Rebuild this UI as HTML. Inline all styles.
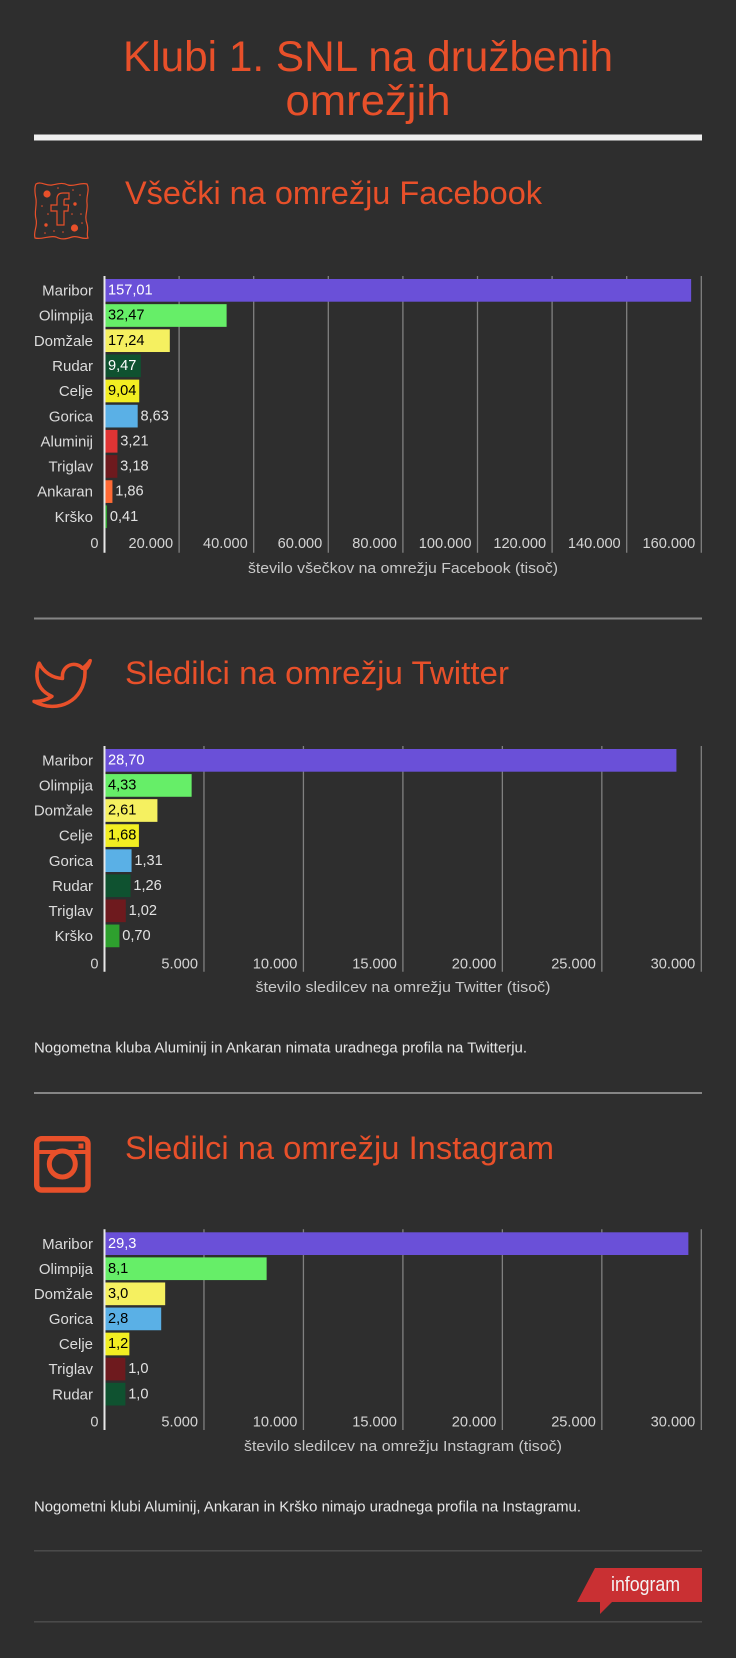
<!DOCTYPE html>
<html lang="sl">
<head>
<meta charset="utf-8">
<title>Klubi 1. SNL na družbenih omrežjih</title>
<style>
html,body{margin:0;padding:0;background:#2e2e2e;}
svg{display:block;}
text{font-family:"Liberation Sans",Arial,sans-serif;}
.title{fill:#e8502a;font-size:43px;text-anchor:middle;}
.h2{fill:#e8502a;font-size:32px;}
.note{fill:#e6e6e6;font-size:14.5px;}
.cat{fill:#dcdcdc;font-size:15px;text-anchor:end;}
.tick{fill:#d4d4d4;font-size:14.6px;text-anchor:end;}
.axt{fill:#c8c8c8;font-size:15px;text-anchor:middle;}
.val{font-size:14.6px;}
</style>
</head>
<body>
<svg id="root" xmlns="http://www.w3.org/2000/svg" width="736" height="1658" viewBox="0 0 736 1658">
  <rect width="736" height="1658" fill="#2e2e2e"/>

  <text class="title" x="368" y="71" textLength="490" lengthAdjust="spacingAndGlyphs">Klubi 1. SNL na družbenih</text>
  <text class="title" x="368" y="115" textLength="165" lengthAdjust="spacingAndGlyphs">omrežjih</text>
  <rect x="34" y="134.5" width="668" height="6" fill="#efefef"/>

  <g fill="none" stroke="#e8502a" stroke-width="1.2">
    <path d="M36,184 C41,181 46,186 52,185 C58,184 62,182 68,185 C74,187 80,182 87,184 C90,190 86,196 87,203 C88,211 84,216 87,224 C89,230 86,234 88,238 C82,240 78,235 72,237 C66,239 62,240 56,237 C50,235 42,240 35,238 C33,232 38,226 36,219 C34,212 37,206 36,199 C35,194 34,188 36,184 Z"/>
    <path d="M57,225 L57,211 L51,211 L51,205 L57,205 L57,199 Q57,193 63,193 L69,193 L69,199 L65,199 Q64,199 64,201 L64,205 L68.5,205 L68,211 L64,211 L64,225 Z"/>
    <g fill="#e8502a" stroke="none">
      <circle cx="47" cy="194" r="3.6"/><circle cx="74.500" cy="228" r="3.6"/>
      <circle cx="75" cy="204" r="1.7"/><circle cx="46" cy="225" r="1.7"/>
      <circle cx="42" cy="206" r="0.8"/><circle cx="48" cy="214" r="0.8"/><circle cx="45" cy="233" r="0.8"/>
      <circle cx="54" cy="231" r="0.8"/><circle cx="63" cy="232" r="0.8"/><circle cx="72" cy="214" r="0.8"/>
      <circle cx="80" cy="195" r="0.8"/><circle cx="81" cy="214" r="0.8"/><circle cx="73" cy="190" r="0.8"/>
      <circle cx="58" cy="188" r="0.8"/><circle cx="82" cy="223" r="0.8"/>
    </g>
  </g>
  <text class="h2" x="125" y="204" textLength="417" lengthAdjust="spacingAndGlyphs">Všečki na omrežju Facebook</text>
  <g id="chart-facebook"></g>
  <rect x="34" y="617.5" width="668" height="2" fill="#858585"/>

  <path transform="translate(31.5,653) scale(2.55)" fill="none" stroke="#e8502a" stroke-width="1.4" stroke-linejoin="round" d="M23 3a10.900 10.900 0 0 1-3 3 4.480 4.480 0 0 0-7.860 3v1A10.660 10.660 0 0 1 3 4s-4 9 5 13a11.640 11.640 0 0 1-7 2c9 5 20 0 20-11.500a4.500 4.500 0 0 0-.08-.83A7.720 7.720 0 0 0 23 3z"/>
  <text class="h2" x="125" y="684" textLength="384" lengthAdjust="spacingAndGlyphs">Sledilci na omrežju Twitter</text>
  <g id="chart-twitter"></g>
  <text class="note" x="34" y="1052.500" textLength="493" lengthAdjust="spacingAndGlyphs">Nogometna kluba Aluminij in Ankaran nimata uradnega profila na Twitterju.</text>
  <rect x="34" y="1092" width="668" height="2" fill="#858585"/>

  <g>
    <rect x="36.700" y="1138.700" width="51.300" height="51.300" rx="5" fill="none" stroke="#e8502a" stroke-width="5.400"/>
    <rect x="36" y="1150" width="52" height="4" fill="#e8502a"/>
    <circle cx="62.300" cy="1164" r="13" fill="#2e2e2e" stroke="#e8502a" stroke-width="5"/>
    <rect x="78.500" y="1143.500" width="5" height="5" fill="#e8502a"/>
  </g>
  <text class="h2" x="125" y="1159" textLength="429" lengthAdjust="spacingAndGlyphs">Sledilci na omrežju Instagram</text>
  <g id="chart-instagram"></g>
  <text class="note" x="34" y="1511.500" textLength="547" lengthAdjust="spacingAndGlyphs">Nogometni klubi Aluminij, Ankaran in Krško nimajo uradnega profila na Instagramu.</text>

  <rect x="34" y="1550" width="668" height="1.600" fill="#4a4a4a"/>
  <polygon points="595,1568 702,1568 702,1602 612,1602 600,1614 600,1602 577,1602" fill="#c93033"/>
  <text x="611" y="1591" fill="#f4f4f4" font-size="20" textLength="69" lengthAdjust="spacingAndGlyphs">infogram</text>
  <rect x="34" y="1621" width="668" height="1.600" fill="#4a4a4a"/>
</svg>

<script>
// Facebook chart data
const fbCategories = ["Maribor","Olimpija","Domžale","Rudar","Celje","Gorica","Aluminij","Triglav","Ankaran","Krško"];
const fbValues = [157.01,32.47,17.24,9.47,9.04,8.63,3.21,3.18,1.86,0.41];
const fbTicks = [0,20000,40000,60000,80000,100000,120000,140000,160000];
const fbAxisTitle = "število všečkov na omrežju Facebook (tisoč)";

// Twitter chart data
const twCategories = ["Maribor","Olimpija","Domžale","Celje","Gorica","Rudar","Triglav","Krško"];
const twValues = [28.70,4.33,2.61,1.68,1.31,1.26,1.02,0.70];
const twTicks = [0,5000,10000,15000,20000,25000,30000];
const twAxisTitle = "število sledilcev na omrežju Twitter (tisoč)";

// Instagram chart data
const igCategories = ["Maribor","Olimpija","Domžale","Gorica","Celje","Triglav","Rudar"];
const igValues = [29.3,8.1,3.0,2.8,1.2,1.0,1.0];
const igTicks = [0,5000,10000,15000,20000,25000,30000];
const igAxisTitle = "število sledilcev na omrežju Instagram (tisoč)";

const clubColors = {
  "Maribor":"#6a50d8","Olimpija":"#66ee68","Domžale":"#f5f060","Rudar":"#0f5230","Celje":"#f2ee22",
  "Gorica":"#5ab0e6","Aluminij":"#e03434","Triglav":"#6e1a1e","Ankaran":"#ff6a35","Krško":"#2ea02e"
};
const whiteInsideClubs = ["Maribor","Rudar","Triglav"];

const SVGNS = "http://www.w3.org/2000/svg";
const PLOT_X0 = 104.5, PLOT_X1 = 701.3;

function make(parent, tag, attrs, txt){
  const el = document.createElementNS(SVGNS, tag);
  for (const k in attrs) el.setAttribute(k, attrs[k]);
  if (txt !== undefined) el.textContent = txt;
  parent.appendChild(el);
  return el;
}
function slug(s){
  return s.toLowerCase().replace(/ž/g,'z').replace(/š/g,'s').replace(/č/g,'c').replace(/[^a-z0-9]+/g,'-');
}
function formatTick(v){
  return String(v).replace(/\B(?=(\d{3})+$)/g,'.');
}
function estWidth(label){
  let w = 0;
  for (const ch of label) w += ch === ',' ? 3.5 : 7.6;
  return w;
}

function drawChart(o){
  const g = document.getElementById(o.id);
  const maxTick = o.ticks[o.ticks.length-1];
  const x = v => PLOT_X0 + (v*1000)/maxTick*(PLOT_X1-PLOT_X0);
  const tickX = v => PLOT_X0 + v/maxTick*(PLOT_X1-PLOT_X0);
  const band = (o.bottom-o.top)/(o.categories.length+1);
  const y = i => o.top + band*i;

  // gridlines
  o.ticks.forEach(function(t){
    if (t === 0) return;
    const line = make(g,'line',{x1:tickX(t),x2:tickX(t),y1:o.top,y2:o.bottom,stroke:'#808080','stroke-width':1.3});
    
    
  });

  // bars + labels
  o.categories.forEach(function(cat,i){
    const v = o.values[i];
    const barX = PLOT_X0 + 1;
    const barEnd = x(v) + 1;
    const bar = make(g,'rect',{x:barX,y:y(i)+3,width:Math.max(barEnd-barX,0.5),height:22.7,fill:clubColors[cat]});
    
    

    const catLabel = make(g,'text',{class:'cat',x:93,y:y(i)+19.500},cat);
    
    

    const label = v.toFixed(o.decimals).replace('.',',');
    const inside = (barEnd-barX) >= estWidth(label)*1.25;
    const fill = inside ? (whiteInsideClubs.indexOf(cat) >= 0 ? '#ffffff' : '#000000') : '#e2e2e2';
    const valLabel = make(g,'text',{class:'val',x:inside ? barX+2.500 : barEnd+2.800,y:y(i)+18.500,fill:fill},label);
    
    
  });

  // zero axis
  const axis = make(g,'line',{x1:PLOT_X0,x2:PLOT_X0,y1:o.top,y2:o.bottom,stroke:'#e8e8e8','stroke-width':2});
  
  

  // tick labels
  o.ticks.forEach(function(t){
    const tl = make(g,'text',{class:'tick',x:tickX(t)-6,y:o.tickY},formatTick(t));
    
    
  });

  // axis title
  const at = make(g,'text',{class:'axt',x:403,y:o.titleY,textLength:o.titleW,lengthAdjust:'spacingAndGlyphs'},o.axisTitle);
  
  
}

drawChart({id:'chart-facebook',categories:fbCategories,values:fbValues,ticks:fbTicks,axisTitle:fbAxisTitle,decimals:2,top:276,bottom:552.7,tickY:548,titleY:573,titleW:310});
drawChart({id:'chart-twitter',categories:twCategories,values:twValues,ticks:twTicks,axisTitle:twAxisTitle,decimals:2,top:746,bottom:971.7,tickY:968.300,titleY:992,titleW:295});
drawChart({id:'chart-instagram',categories:igCategories,values:igValues,ticks:igTicks,axisTitle:igAxisTitle,decimals:1,top:1229.300,bottom:1430,tickY:1426.500,titleY:1451,titleW:318});
</script>
</body>
</html>
